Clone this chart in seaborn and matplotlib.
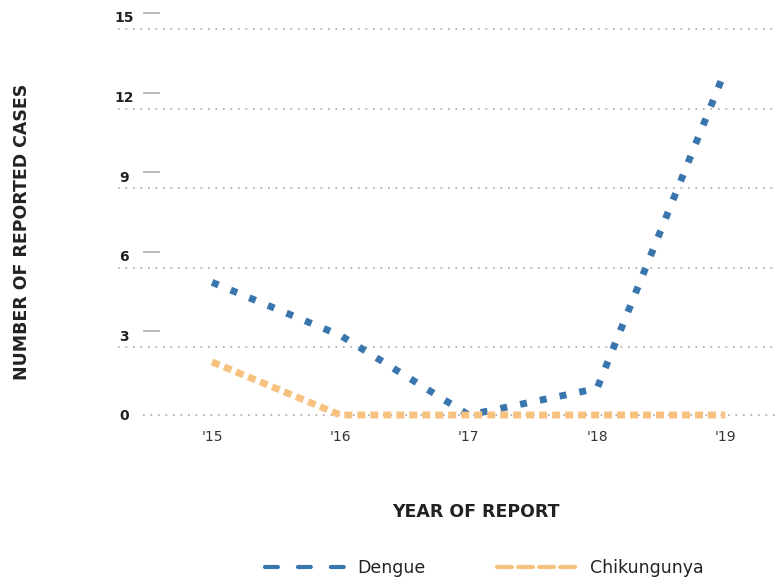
import matplotlib
matplotlib.use("Agg")
import matplotlib.pyplot as plt
import matplotlib.transforms as mtransforms
from matplotlib.lines import Line2D
import pandas as pd
import seaborn as sns

# Reported cases per year
years = [2015, 2016, 2017, 2018, 2019]
year_labels = ["'15", "'16", "'17", "'18", "'19"]
dengue = [5, 3, 0, 1, 13]
chikungunya = [2, 0, 0, 0, 0]
y_ticks = [0, 3, 6, 9, 12, 15]

series_names = ["Dengue", "Chikungunya"]
colors = {"Dengue": "#3a76ae", "Chikungunya": "#f7c27f"}

df = pd.DataFrame({
    "year": years * 2,
    "cases": dengue + chikungunya,
    "disease": ["Dengue"] * len(years) + ["Chikungunya"] * len(years),
})

sns.set_theme(style="white")
plt.rcParams["font.family"] = ["DejaVu Sans"]

fig = plt.figure(figsize=(7.8, 5.81), dpi=100)
ax = fig.add_axes([118 / 780, 1 - 415 / 581, 660 / 780, 398 / 581])

sns.lineplot(
    data=df, x="year", y="cases", hue="disease", style="disease",
    hue_order=series_names, style_order=series_names,
    palette=colors,
    dashes={"Dengue": (1.0, 1.9), "Chikungunya": (1.15, 0.72)},
    linewidth=5, legend=False, ax=ax, clip_on=False, zorder=3,
)
for ln in ax.get_lines():
    ln.set_dash_capstyle("butt")
    ln.set_solid_capstyle("butt")

ax.set_xlim(2014.267, 2019.41)
ax.set_ylim(0, 15)
sns.despine(ax=ax, left=True, bottom=True)
ax.grid(False)

# dotted guide lines, drawn a little below each tick value
shift = mtransforms.ScaledTranslation(0, -12 / 100, fig.dpi_scale_trans)
blend = mtransforms.blended_transform_factory(ax.transAxes, ax.transData)
ax.hlines(y_ticks[1:], 0, 1, transform=blend + shift, colors="#a8a8a8",
          linewidth=1.2, linestyles=(0, (1, 3.5)), zorder=1, clip_on=False)
ax.hlines([0], 25 / 660, 1, transform=blend, colors="#a8a8a8",
          linewidth=1.2, linestyles=(0, (1, 3.5)), zorder=1, clip_on=False)
# short marks beside the value labels
up = mtransforms.ScaledTranslation(0, 4 / 100, fig.dpi_scale_trans)
ax.hlines(y_ticks[1:], 25 / 660, 42 / 660, transform=blend + up,
          colors="#b0b0b0", linewidth=1.2, zorder=1, clip_on=False)

ax.set_xticks(years)
ax.set_xticklabels(year_labels)
ax.set_yticks(y_ticks)
ax.set_yticklabels([str(v) for v in y_ticks])
ax.tick_params(axis="x", length=0, pad=11, labelsize=10, labelcolor="#333333")
ax.tick_params(axis="y", length=0, pad=-4.3, labelsize=10, labelcolor="#222222")
for lbl in ax.get_yticklabels():
    lbl.set_horizontalalignment("center")
    lbl.set_fontweight("bold")
ax.set_xlabel("")
ax.set_ylabel("")

fig.text(476 / 780, 1 - 512 / 581, "YEAR OF REPORT", ha="center", va="center",
         fontsize=12.5, fontweight="bold", color="#222222")
fig.text(22 / 780, 1 - 232 / 581, "NUMBER OF REPORTED CASES", ha="center",
         va="center", rotation=90, fontsize=12.5, fontweight="bold",
         color="#222222")

handles = [
    Line2D([], [], color=colors["Dengue"], linewidth=3,
           dashes=(3.1, 4.8), dash_capstyle="round"),
    Line2D([], [], color=colors["Chikungunya"], linewidth=3,
           dashes=(3.6, 1.45), dash_capstyle="round"),
]
fig.legend(handles, series_names, loc="center", ncol=2,
           bbox_to_anchor=(484 / 780, 1 - 568 / 581), frameon=False,
           fontsize=12.5, handlelength=4.6, handletextpad=0.75,
           columnspacing=4.1, labelcolor="#222222")

fig.savefig("out.png", dpi=100)
